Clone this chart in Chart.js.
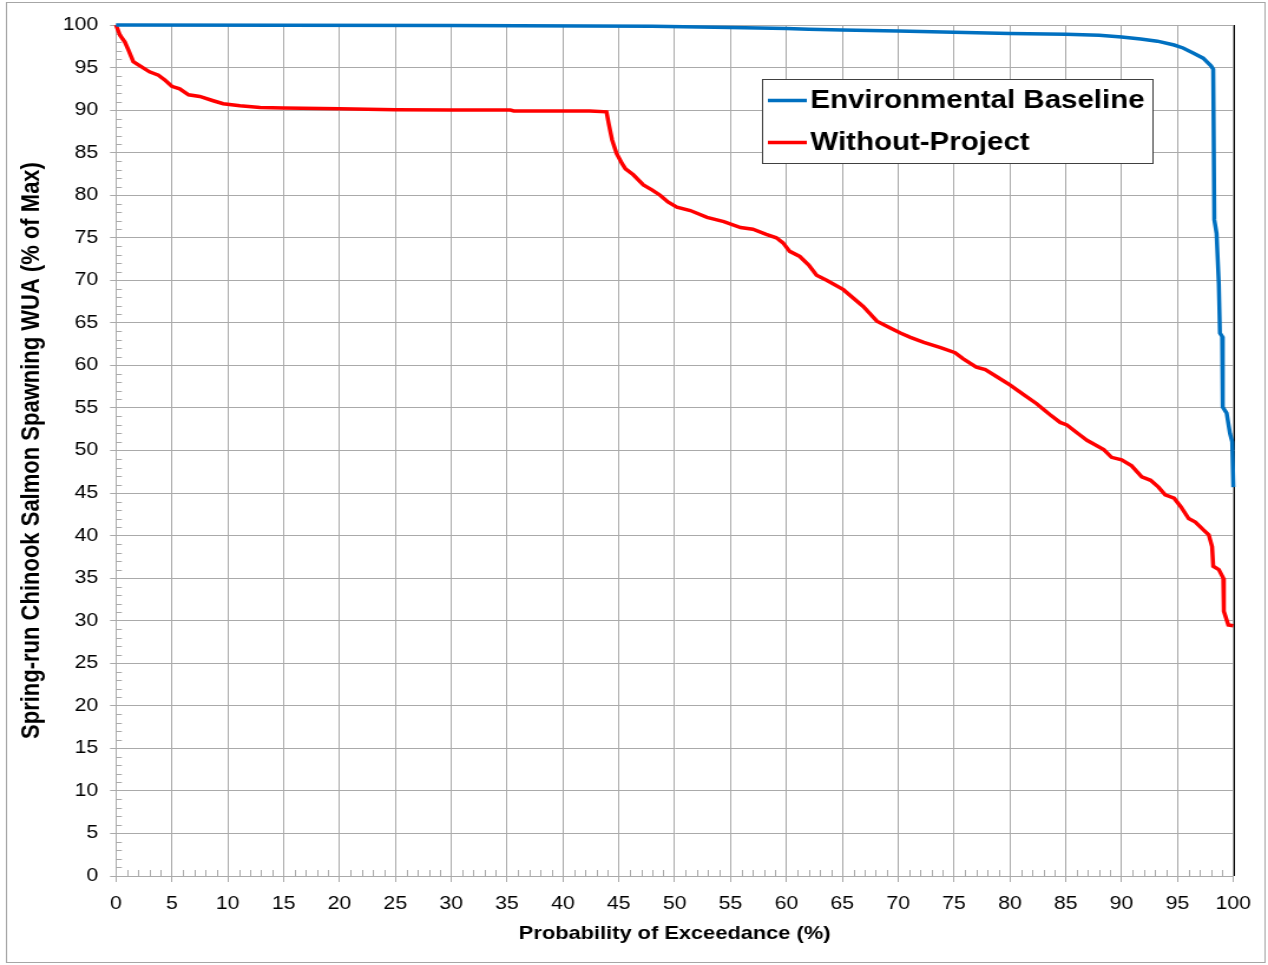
<!DOCTYPE html>
<html>
<head>
<meta charset="utf-8">
<title>Spring-run Chinook Salmon Spawning WUA</title>
<script src="https://cdn.jsdelivr.net/npm/chart.js@4.4.1/dist/chart.umd.min.js"></script>
<style>
  html, body { margin: 0; padding: 0; background: #fff; }
  #chart { display: block; }
</style>
</head>
<body>
<!-- the source picture is stretched sideways, so the canvas is drawn narrow and widened by css -->
<canvas id="chart" width="1075" height="965" style="width:1268px;height:965px"></canvas>
<script>
    // Environmental Baseline (blue)
    const baseX = [0, 30, 48, 55, 60, 62, 65, 70, 75, 80, 85, 88, 90, 91.7, 93.2, 94.7, 95.5, 96.4, 97.3, 98.0,
                   98.2, 98.3, 98.5, 98.7, 98.8, 99.0, 99.05, 99.4, 99.7, 99.9, 100];
    const baseY = [100, 99.95, 99.85, 99.7, 99.6, 99.5, 99.4, 99.3, 99.15, 99.0, 98.9, 98.8, 98.6, 98.35, 98.1, 97.65, 97.3, 96.7, 96.1, 95.2,
                   94.8, 77.1, 75.5, 69.6, 63.8, 63.4, 55.1, 54.4, 52.0, 51.0, 45.7];

    // Without-Project (red)
    const noProjX = [0, 0.36, 0.8, 1.1, 1.55, 2.15, 3.0, 3.8, 4.4, 5.0, 5.7, 6.5, 7.5, 8.7, 9.6, 11.1, 12.9, 15, 20, 25,
                     30, 35.3, 35.6, 42.4, 43.9, 44.1, 44.4, 44.8, 45.3, 45.6, 46.3, 47.2, 48.0, 48.7, 49.4, 50.2, 51.4, 52.9, 54.4, 55.9,
                     57.0, 58.2, 59.1, 59.7, 60.3, 61.2, 62.0, 62.7, 63.6, 65.1, 66.9, 68.1, 69.3, 70.2, 71.1, 72.3, 73.8, 75.1, 75.8, 77.0,
                     77.8, 78.8, 80.0, 81.2, 82.4, 83.6, 84.5, 85.1, 86.3, 86.9, 88.4, 89.1, 90.0, 90.9, 91.8, 92.6, 93.3, 93.9, 94.7, 95.3,
                     96.0, 96.6, 97.3, 97.8, 98.1, 98.2, 98.7, 99.1, 99.15, 99.55, 100];
    const noProjY = [100, 98.8, 98.0, 97.1, 95.7, 95.2, 94.5, 94.1, 93.5, 92.8, 92.5, 91.8, 91.6, 91.1, 90.75, 90.5, 90.3, 90.25, 90.15, 90.05,
                     90.0, 90.0, 89.9, 89.9, 89.8, 88.4, 86.5, 84.9, 83.7, 83.1, 82.4, 81.2, 80.6, 80.0, 79.2, 78.6, 78.2, 77.4, 76.9, 76.2,
                     76.0, 75.4, 75.0, 74.4, 73.4, 72.8, 71.8, 70.6, 70.0, 68.9, 66.9, 65.2, 64.4, 63.8, 63.3, 62.7, 62.1, 61.5, 60.8, 59.8,
                     59.5, 58.7, 57.7, 56.6, 55.5, 54.2, 53.3, 53.0, 51.8, 51.2, 50.1, 49.2, 48.9, 48.2, 46.9, 46.5, 45.7, 44.8, 44.4, 43.4,
                     42.0, 41.6, 40.7, 40.1, 38.7, 36.4, 36.0, 35.0, 31.1, 29.5, 29.4];

    const seriesNames = ['Environmental Baseline', 'Without-Project'];
    const seriesColors = ['#0070C0', '#FF0000'];
    const xTitle = 'Probability of Exceedance (%)';
    const yTitle = 'Spring-run Chinook Salmon Spawning WUA (% of Max)';

    const FONT = "'Liberation Sans', Arial, sans-serif";
    const GRID = '#aaaaaa';

    function toPoints(xs, ys) {
      return xs.map((x, i) => ({ x, y: ys[i] }));
    }

    // outer frame, minor ticks, right border and the boxed legend
    const decorPlugin = {
      id: 'decor',
      beforeDraw(chart) {
        const ctx = chart.ctx;
        ctx.save();
        ctx.fillStyle = '#fff';
        ctx.fillRect(0, 0, chart.width, chart.height);
        ctx.strokeStyle = '#a6a6a6';
        ctx.lineWidth = 1;
        ctx.strokeRect(5.5, 2.5, chart.width - 8, chart.height - 5);
        ctx.restore();
      },
      beforeDatasetsDraw(chart) {
        const { ctx, chartArea: a, scales: { x, y } } = chart;
        ctx.save();
        ctx.strokeStyle = GRID;
        ctx.lineWidth = 1;
        ctx.beginPath();
        for (let v = 1; v < 100; v++) {
          if (v % 5 === 0) continue;
          const px = Math.round(x.getPixelForValue(v)) + 0.5;
          ctx.moveTo(px, a.bottom);
          ctx.lineTo(px, a.bottom - 6);
          const py = Math.round(y.getPixelForValue(v)) + 0.5;
          ctx.moveTo(a.left, py);
          ctx.lineTo(a.left + 5, py);
        }
        ctx.stroke();
        // black right edge of the plot
        ctx.strokeStyle = '#000';
        ctx.beginPath();
        ctx.moveTo(Math.round(a.right) + 0.5, a.top);
        ctx.lineTo(Math.round(a.right) + 0.5, a.bottom);
        ctx.stroke();
        ctx.restore();
      },
      afterDraw(chart) {
        const ctx = chart.ctx;
        const box = { x: 646.5, y: 79.5, w: 331, h: 84 };
        ctx.save();
        ctx.fillStyle = '#fff';
        ctx.fillRect(box.x, box.y, box.w, box.h);
        ctx.strokeStyle = '#404040';
        ctx.lineWidth = 1;
        ctx.strokeRect(box.x, box.y, box.w, box.h);
        ctx.font = 'bold 25px ' + FONT;
        ctx.textBaseline = 'middle';
        ctx.textAlign = 'left';
        chart.data.datasets.forEach((ds, i) => {
          const rowY = 100.5 + i * 42;
          ctx.strokeStyle = ds.borderColor;
          ctx.lineWidth = 3.5;
          ctx.beginPath();
          ctx.moveTo(651, rowY);
          ctx.lineTo(684, rowY);
          ctx.stroke();
          ctx.fillStyle = '#000';
          ctx.fillText(ds.label, 687, rowY + 1);
        });
        ctx.restore();
      }
    };

    const ctx = document.getElementById('chart').getContext('2d');
    const chart = new Chart(ctx, {
      type: 'line',
      data: {
        datasets: [
          { label: seriesNames[0], data: toPoints(baseX, baseY), borderColor: seriesColors[0], borderWidth: 3.5,
            pointRadius: 0, tension: 0, fill: false, clip: false },
          { label: seriesNames[1], data: toPoints(noProjX, noProjY), borderColor: seriesColors[1], borderWidth: 3.5,
            pointRadius: 0, tension: 0, fill: false, clip: false }
        ]
      },
      options: {
        responsive: false,
        animation: false,
        devicePixelRatio: 1,
        layout: { padding: { left: 0, right: 29.4, top: 25, bottom: 0 } },
        plugins: { legend: { display: false }, tooltip: { enabled: false } },
        scales: {
          x: {
            type: 'linear', min: 0, max: 100,
            ticks: { stepSize: 5, autoSkip: false, maxRotation: 0, color: '#000', padding: 11,
                     font: { family: FONT, size: 18 } },
            grid: { color: GRID, tickLength: 6 },
            border: { color: GRID },
            title: { display: true, text: xTitle, color: '#000', padding: { top: 0, bottom: 20 },
                     font: { family: FONT, size: 18.5, weight: 'bold' } },
            afterFit(s) { s.height = 89; }
          },
          y: {
            type: 'linear', min: 0, max: 100,
            ticks: { stepSize: 5, autoSkip: false, color: '#000', padding: 10,
                     font: { family: FONT, size: 18 } },
            grid: { color: GRID, tickLength: 5 },
            border: { color: GRID },
            title: { display: true, text: yTitle, color: '#000', padding: { top: 14, bottom: 0 },
                     font: { family: FONT, size: 22, weight: 'bold' } },
            afterFit(s) { s.width = 98.3; }
          }
        }
      },
      plugins: [decorPlugin]
    });
</script>
</body>
</html>
